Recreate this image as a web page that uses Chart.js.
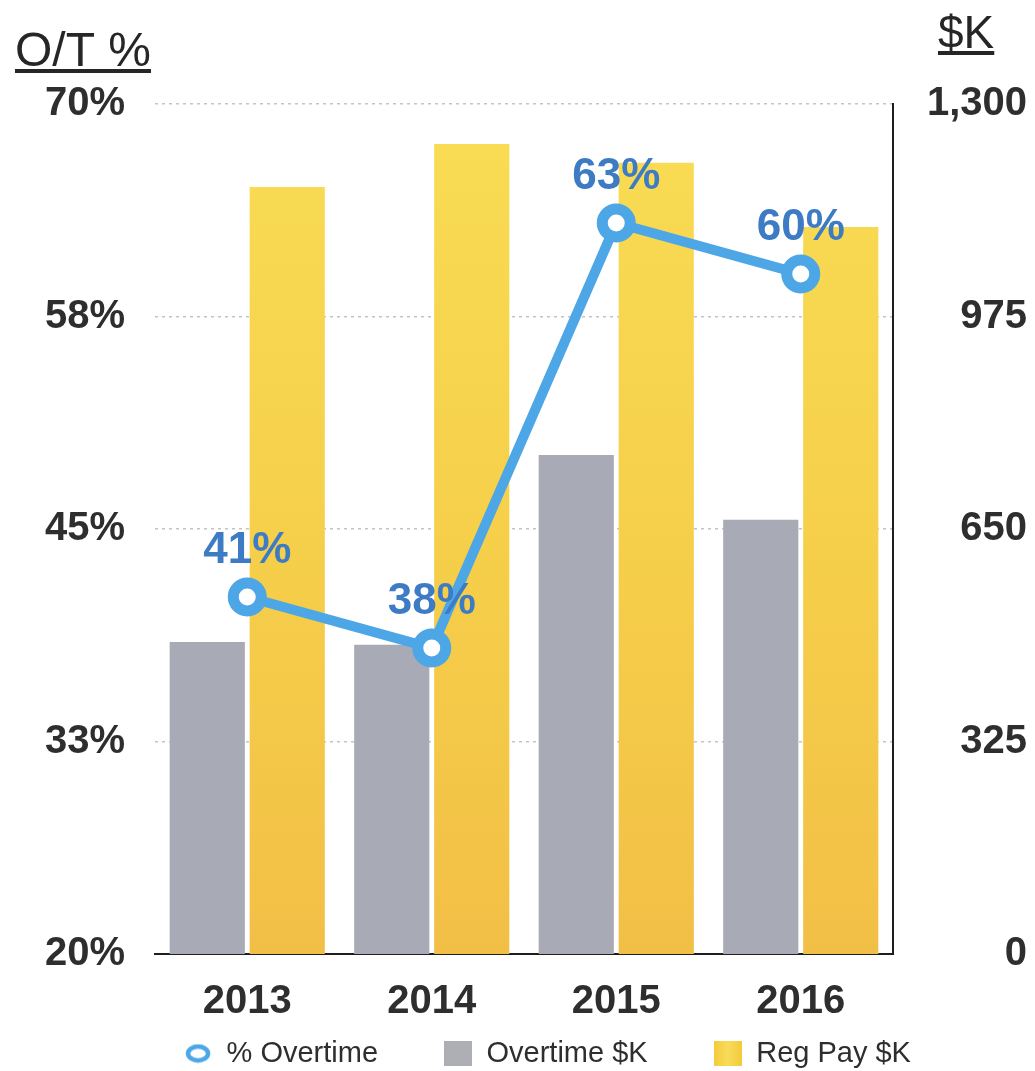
<!DOCTYPE html>
<html>
<head>
<meta charset="utf-8">
<script src="https://cdn.jsdelivr.net/npm/chart.js@4.4.1/dist/chart.umd.min.js"></script>
<style>
  html, body { margin: 0; padding: 0; background: #fff; }
  canvas { display: block; }
</style>
</head>
<body>
<canvas id="c" width="1035" height="1071"></canvas>
<script>
// ---- data ----
const years = ['2013', '2014', '2015', '2016'];
const overtimePct = [41, 38, 63, 60];          // % Overtime (left axis)
const overtimeK = [477, 473, 763, 664];        // Overtime $K (right axis)
const regPayK = [1173, 1239, 1210, 1112];      // Reg Pay $K (right axis)
const pctTickLabels = ['20%', '33%', '45%', '58%', '70%'];
const dollarTickLabels = ['0', '325', '650', '975', '1,300'];
const seriesNames = ['% Overtime', 'Overtime $K', 'Reg Pay $K'];
const leftTitle = 'O/T %';
const rightTitle = '$K';

// ---- styling ----
const FONT = "'Liberation Sans', Arial, Helvetica, sans-serif";
const TEXT = '#2E2E2E';
const LINE_BLUE = '#4DA6E6';
const LABEL_BLUE = '#3D7BC4';
const GRAY = '#A8ABB5';
const LEGEND_GAP = 66;

// small legend marker images
function makeMarker(w, h, draw) {
  const cv = document.createElement('canvas');
  cv.width = w; cv.height = h;
  draw(cv.getContext('2d'), w, h);
  return cv;
}
const markers = [
  makeMarker(28, 20, (g, w, h) => {
    g.beginPath();
    g.ellipse(w / 2, h / 2, 10, 7, 0, 0, Math.PI * 2);
    g.fillStyle = '#fff'; g.fill();
    g.lineWidth = 4.5; g.strokeStyle = LINE_BLUE; g.stroke();
  }),
  makeMarker(28, 25, (g, w, h) => { g.fillStyle = '#ADAFB4'; g.fillRect(0, 0, w, h); }),
  makeMarker(28, 25, (g, w, h) => {
    const gr = g.createLinearGradient(0, 0, w, 0);
    gr.addColorStop(0, '#F3CB3C'); gr.addColorStop(0.5, '#F8DC5A'); gr.addColorStop(1, '#F3CB3C');
    g.fillStyle = gr; g.fillRect(0, 0, w, h);
  })
];

function yellowFill(ctx) {
  const area = ctx.chart.chartArea;
  if (!area) return '#F5CF48';
  const g = ctx.chart.ctx.createLinearGradient(0, area.top, 0, area.bottom);
  g.addColorStop(0, '#F9DC55');
  g.addColorStop(0.5, '#F6D04A');
  g.addColorStop(1, '#F2BF46');
  return g;
}

// axis titles above the plot, underlined
const axisTitles = {
  id: 'axisTitles',
  afterDraw(chart) {
    const { ctx, chartArea } = chart;
    ctx.save();
    ctx.fillStyle = '#262626';
    ctx.textBaseline = 'alphabetic';
    ctx.textAlign = 'left';

    ctx.font = `48px ${FONT}`;
    const lx = chartArea.left - 140, ly = chartArea.top - 38;
    ctx.fillText(leftTitle, lx, ly);
    ctx.fillRect(lx, ly + 3, ctx.measureText(leftTitle).width, 4);

    ctx.font = `46px ${FONT}`;
    const rx = chartArea.right + 45, ry = chartArea.top - 56;
    ctx.fillText(rightTitle, rx, ry);
    ctx.fillRect(rx, ry + 3, ctx.measureText(rightTitle).width, 4);
    ctx.restore();
  }
};

// percentage labels above the line points
const pointLabels = {
  id: 'pointLabels',
  afterDatasetsDraw(chart) {
    const meta = chart.getDatasetMeta(0);
    const { ctx } = chart;
    ctx.save();
    ctx.font = `bold 44px ${FONT}`;
    ctx.fillStyle = LABEL_BLUE;
    ctx.textAlign = 'center';
    ctx.textBaseline = 'middle';
    meta.data.forEach((pt, i) => {
      ctx.fillText(overtimePct[i] + '%', pt.x, pt.y - 46);
    });
    ctx.restore();
  }
};

// the wide item spacing also pads the legend from its top edge;
// pull it back up and nudge it right so it sits under the plot
const legendPlacement = {
  id: 'legendPlacement',
  afterLayout(chart) {
    const lg = chart.legend;
    if (!lg) return;
    const dy = -(LEGEND_GAP - 10);
    lg.top += dy;
    lg.bottom += dy;
    lg.left += 14;
    lg.right += 14;
  }
};

new Chart(document.getElementById('c'), {
  data: {
    labels: years,
    datasets: [
      {
        type: 'line',
        label: seriesNames[0],
        data: overtimePct,
        yAxisID: 'yPct',
        order: 0,
        borderColor: LINE_BLUE,
        borderWidth: 10,
        pointRadius: 14,
        pointBorderWidth: 11,
        pointBackgroundColor: '#fff',
        pointBorderColor: LINE_BLUE,
        tension: 0
      },
      {
        type: 'bar',
        label: seriesNames[1],
        data: overtimeK,
        yAxisID: 'yK',
        order: 1,
        backgroundColor: GRAY,
        categoryPercentage: 0.867,
        barPercentage: 0.94
      },
      {
        type: 'bar',
        label: seriesNames[2],
        data: regPayK,
        yAxisID: 'yK',
        order: 1,
        backgroundColor: yellowFill,
        categoryPercentage: 0.867,
        barPercentage: 0.94
      }
    ]
  },
  options: {
    responsive: false,
    animation: false,
    devicePixelRatio: 1,
    // the legend box reaches below the canvas edge; its items are pulled up afterwards
    layout: { padding: { left: 40, right: 8, top: 104, bottom: -63 } },
    scales: {
      x: {
        grid: { display: false, drawTicks: false },
        border: { display: true, color: '#1E1E1E', width: 2 },
        ticks: { color: TEXT, font: { family: FONT, size: 40, weight: 'bold' }, padding: 24 },
        afterFit(axis) { axis.height = 75; }
      },
      yPct: {
        type: 'linear',
        position: 'left',
        min: 20, max: 70,
        grid: {
          display: true, drawTicks: false, lineWidth: 1.5,
          color: (c) => (c.tick && c.tick.value === 20) ? 'rgba(0,0,0,0)' : '#C4C4C4'
        },
        border: { display: false, dash: [3, 4] },
        ticks: {
          stepSize: 12.5,
          padding: 30,
          color: TEXT,
          font: { family: FONT, size: 40, weight: 'bold' },
          callback: (v, i) => pctTickLabels[i]
        },
        afterFit(axis) { axis.width = 115; }
      },
      yK: {
        type: 'linear',
        position: 'right',
        min: 0, max: 1300,
        grid: { display: false, drawTicks: false },
        border: { display: true, color: '#1E1E1E', width: 2 },
        ticks: {
          stepSize: 325,
          padding: 34,
          crossAlign: 'far',
          color: TEXT,
          font: { family: FONT, size: 40, weight: 'bold' },
          callback: (v, i) => dollarTickLabels[i]
        },
        afterFit(axis) { axis.width = 134; }
      }
    },
    plugins: {
      tooltip: { enabled: false },
      legend: {
        position: 'bottom',
        labels: {
          usePointStyle: true,
          pointStyleWidth: 28,
          boxHeight: 25,
          padding: LEGEND_GAP,
          color: TEXT,
          font: { family: FONT, size: 29 },
          generateLabels(chart) {
            const items = Chart.defaults.plugins.legend.labels.generateLabels(chart);
            items.forEach(it => { it.pointStyle = markers[it.datasetIndex]; });
            return items;
          }
        }
      }
    }
  },
  plugins: [axisTitles, pointLabels, legendPlacement]
});
</script>
</body>
</html>
